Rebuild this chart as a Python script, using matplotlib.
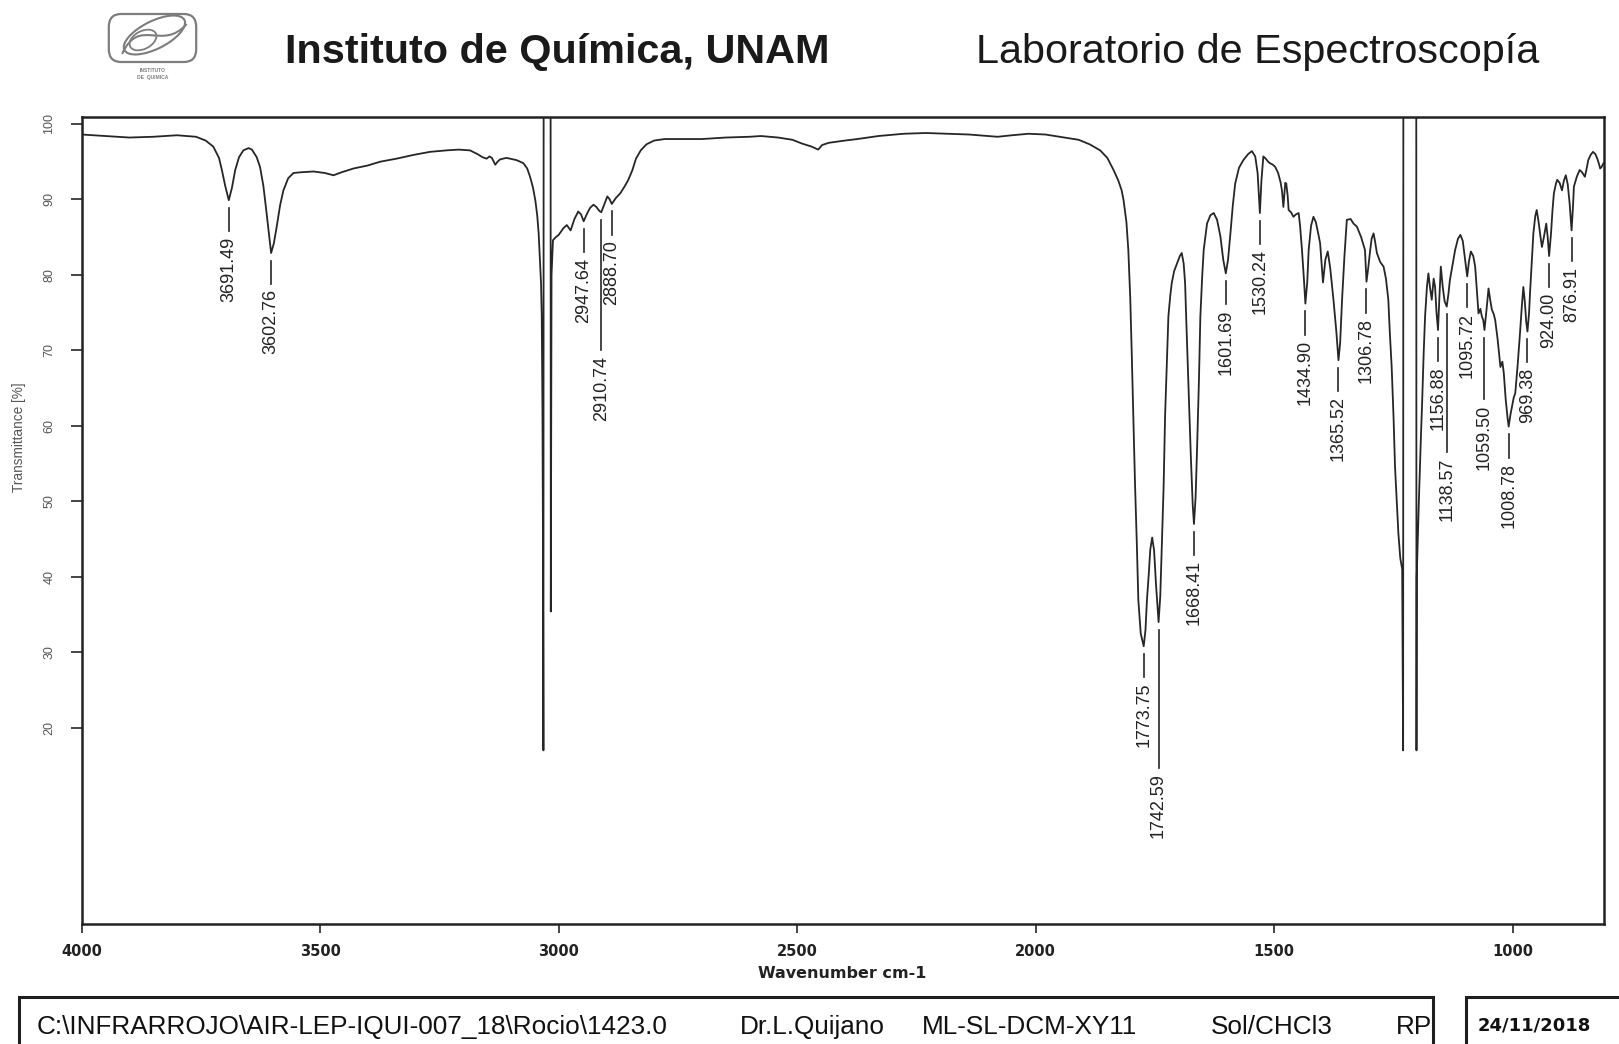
import numpy as np
import matplotlib.pyplot as plt
from matplotlib.patches import Rectangle, FancyBboxPatch, Ellipse, PathPatch
from matplotlib.path import Path

plt.rcParams['font.family'] = ['Liberation Sans', 'DejaVu Sans']

# IR spectrum, wavenumber (cm-1) against transmittance (%)
wavenumber = [
    4000, 3950, 3900, 3850, 3800, 3760, 3740, 3724, 3712, 3706, 3699, 3691.49,
    3685, 3678, 3670, 3661, 3650, 3643, 3633, 3626, 3619, 3613, 3607, 3602.76,
    3597, 3591, 3584, 3577, 3567, 3556, 3540, 3514, 3490, 3472, 3455, 3430,
    3400, 3374, 3340, 3304, 3270, 3235, 3210, 3186, 3170, 3160, 3151, 3145,
    3140, 3133, 3128, 3123, 3110, 3102, 3088, 3074, 3066, 3060, 3054, 3049,
    3045, 3042, 3039, 3037, 3035.5, 3034, 3033, 3032, 3031.5, 3017, 3016.5, 3015,
    3012, 3006, 3000, 2990, 2983, 2975, 2967, 2959, 2953, 2947.64, 2940, 2934,
    2927, 2921, 2915, 2910.74, 2904, 2898, 2893, 2888.70, 2880, 2871, 2862, 2854,
    2846, 2838, 2828, 2816, 2800, 2778, 2740, 2700, 2650, 2600, 2576, 2540,
    2510, 2490, 2470, 2456, 2448, 2434, 2400, 2374, 2330, 2277, 2230, 2187,
    2140, 2100, 2080, 2050, 2015, 1980, 1940, 1910, 1887, 1865, 1850, 1837,
    1827, 1820, 1816, 1810, 1806, 1802, 1799, 1795, 1792, 1788, 1785, 1780,
    1773.75, 1770, 1767, 1763, 1760, 1756, 1752, 1748, 1742.59, 1739, 1736, 1732,
    1729, 1725, 1722, 1718, 1715, 1710, 1704, 1698, 1694, 1690, 1687, 1684,
    1680, 1675, 1671, 1668.41, 1665, 1662, 1658, 1655, 1651, 1648, 1641, 1634,
    1627, 1620, 1613, 1607, 1601.69, 1597, 1592, 1587, 1582, 1574, 1565, 1555,
    1547, 1540, 1535, 1530.24, 1527, 1523, 1518, 1513, 1509, 1503, 1498, 1492,
    1487, 1484, 1481, 1477, 1475, 1472, 1470, 1465, 1460, 1455, 1449, 1446,
    1442, 1438, 1434.90, 1431, 1428, 1423, 1418, 1413, 1408, 1404, 1398, 1393,
    1388, 1383, 1376, 1370, 1365.52, 1362, 1358, 1353, 1348, 1340, 1334, 1327,
    1318, 1310, 1306.78, 1303, 1299, 1296, 1292, 1289, 1285, 1278, 1271, 1266,
    1261, 1258, 1254, 1250, 1247, 1243, 1240, 1236, 1232, 1230, 1229.5, 1202.5,
    1202, 1201.5, 1197, 1193, 1190, 1187, 1184, 1180, 1177, 1174, 1170, 1166,
    1163, 1160, 1156.88, 1154, 1151, 1147, 1143, 1138.57, 1135, 1132, 1126, 1121,
    1115, 1110, 1105, 1100, 1095.72, 1092, 1088, 1083, 1079, 1075, 1072, 1068,
    1065, 1062, 1059.50, 1055, 1051, 1047, 1044, 1040, 1037, 1032, 1026, 1022,
    1019, 1015, 1011, 1008.78, 1005, 1002, 998, 995, 990, 985, 981, 978,
    975, 972, 969.38, 966, 964, 960, 957, 953, 950, 946, 942, 939,
    935, 930, 927, 924.00, 920, 917, 914, 910, 907, 902, 897, 893,
    889, 885, 881, 876.91, 874, 872, 866, 860, 855, 849, 845, 842,
    837, 832, 827, 823, 819, 817, 814, 810,
]
transmittance = [
    98.6, 98.4, 98.2, 98.3, 98.5, 98.3, 97.8, 97.0, 95.5, 93.9, 91.8, 89.9,
    91.5, 93.9, 95.6, 96.5, 96.8, 96.6, 95.6, 94.3, 91.8, 88.6, 85.2, 82.9,
    84.2, 86.4, 89.2, 91.2, 92.8, 93.5, 93.6, 93.7, 93.5, 93.2, 93.6, 94.1,
    94.5, 95.0, 95.4, 95.9, 96.3, 96.5, 96.6, 96.5, 96.0, 95.6, 95.4, 95.7,
    95.5, 94.6, 95.0, 95.3, 95.5, 95.4, 95.2, 94.8, 94.1, 93.0, 91.6, 89.9,
    87.9, 85.5, 81.5, 78.9, 74.5, 62.0, 45.0, 17.0, 110.0, 110.0, 35.4, 80.0,
    84.6, 85.0, 85.3, 86.2, 86.6, 85.9, 87.4, 88.4, 88.0, 87.1, 88.2, 88.9,
    89.3, 89.0, 88.5, 88.3, 89.4, 90.4, 90.0, 89.4, 90.2, 90.8, 91.7, 92.6,
    93.8, 95.4, 96.5, 97.3, 97.8, 98.0, 98.0, 98.0, 98.2, 98.3, 98.4, 98.2,
    97.9, 97.4, 97.0, 96.6, 97.2, 97.5, 97.8, 98.0, 98.4, 98.7, 98.8, 98.7,
    98.6, 98.4, 98.3, 98.5, 98.7, 98.6, 98.2, 97.9, 97.3, 96.5, 95.5, 93.9,
    92.5, 91.2, 89.9, 87.0, 83.3, 77.0, 70.0, 60.0, 52.4, 44.0, 36.9, 32.5,
    30.8, 33.0, 36.9, 40.5, 43.6, 45.2, 43.5, 39.0, 34.0, 37.5, 43.6, 52.0,
    61.2, 69.0, 74.5, 77.3, 78.9, 80.5, 81.5, 82.5, 82.9, 81.5, 78.9, 73.0,
    65.6, 56.0, 49.5, 47.0, 50.5, 56.8, 66.0, 74.5, 80.0, 83.3, 86.8, 87.9,
    88.2, 87.3, 85.1, 82.0, 80.2, 82.0, 85.5, 89.2, 92.1, 94.2, 95.2, 96.0,
    96.4, 95.7, 93.5, 88.2, 92.5, 95.7, 95.4, 95.0, 94.8, 94.6, 94.3, 93.5,
    92.3, 91.2, 89.0, 92.2, 92.1, 90.5, 88.6, 88.3, 87.7, 88.0, 88.2, 86.5,
    83.3, 79.5, 76.2, 79.0, 83.3, 86.5, 87.7, 87.0, 85.5, 84.2, 79.0, 82.0,
    83.1, 81.0, 76.7, 72.5, 68.7, 71.0, 76.7, 82.5, 87.3, 87.4, 86.8, 86.4,
    85.0, 83.3, 79.1, 81.0, 83.3, 84.8, 85.5, 84.5, 82.9, 81.7, 81.1, 79.5,
    76.7, 72.5, 67.8, 61.0, 54.6, 49.5, 45.8, 42.5, 41.0, 17.0, 110.0, 110.0,
    17.0, 40.0, 50.0, 58.0, 63.4, 69.5, 74.5, 78.5, 80.2, 78.5, 76.7, 79.5,
    78.4, 75.0, 72.7, 77.0, 81.1, 78.4, 76.5, 75.8, 77.5, 79.3, 81.5, 83.3,
    84.8, 85.3, 84.5, 82.0, 79.8, 81.8, 83.1, 82.5, 81.1, 77.5, 74.9, 75.5,
    74.5, 74.0, 72.7, 75.5, 78.2, 76.5, 75.4, 74.8, 74.0, 71.5, 67.8, 68.5,
    67.0, 63.5, 61.0, 59.9, 61.5, 62.5, 63.8, 64.3, 68.0, 72.3, 76.0, 78.4,
    76.5, 73.8, 72.5, 75.0, 77.6, 82.0, 85.5, 87.8, 88.6, 87.0, 85.0, 83.7,
    85.0, 86.8, 85.0, 82.5, 85.5, 88.5, 90.8, 92.0, 92.6, 92.2, 91.2, 92.5,
    93.2, 92.0, 89.5, 85.9, 89.0, 91.7, 93.0, 93.9, 93.6, 93.0, 94.2, 95.2,
    95.9, 96.3, 96.0, 95.4, 94.6, 94.1, 94.3, 94.8,
]

peak_wavenumbers = [
    3691.49, 3602.76, 2947.64, 2910.74, 2888.70, 1773.75, 1742.59, 1668.41,
    1601.69, 1530.24, 1434.90, 1365.52, 1306.78, 1156.88, 1138.57, 1095.72,
    1059.50, 1008.78, 969.38, 924.00, 876.91,
]

# peaks whose label is pushed further down to clear a neighbour (drop in %T)
long_leaders = {2910.74: 19.0, 1742.59: 20.0, 1138.57: 20.0, 1059.50: 9.9}

y_ticks = [20, 30, 40, 50, 60, 70, 80, 90, 100]
x_ticks = [4000, 3500, 3000, 2500, 2000, 1500, 1000]

footer_fields = [
    ('C:\\INFRARROJO\\AIR-LEP-IQUI-007_18\\Rocio\\1423.0', 37),
    ('Dr.L.Quijano', 740),
    ('ML-SL-DCM-XY11', 922),
    ('Sol/CHCl3', 1211),
    ('RP', 1396),
]
run_date = '24/11/2018'

W, H = 1619, 1044
LINE = '#262626'


def fx(px):
    return px / W


def fy(py):
    return 1 - py / H


def draw_logo(fig):
    lax = fig.add_axes([fx(105), fy(82), fx(95), 70 / H])
    lax.set_xlim(0, 100)
    lax.set_ylim(0, 70)
    lax.axis('off')
    grey = '#7d7d7d'
    lax.add_patch(FancyBboxPatch((4, 20), 92, 48, boxstyle='round,pad=0,rounding_size=13',
                                 fill=False, ec=grey, lw=1.6))
    lax.add_patch(Ellipse((52, 47), 70, 28, angle=25, fill=False, ec=grey, lw=1.5))
    lax.add_patch(Ellipse((40, 42), 30, 18, angle=25, fill=False, ec=grey, lw=1.3))
    swirl = Path([(18, 28), (36, 66), (60, 30), (86, 58)],
                 [Path.MOVETO, Path.CURVE4, Path.CURVE4, Path.CURVE4])
    lax.add_patch(PathPatch(swirl, fill=False, ec=grey, lw=1.5))
    lax.text(50, 12, 'INSTITUTO', ha='center', va='center', fontsize=3.6, color=grey, fontweight='bold')
    lax.text(50, 4.5, 'DE  QUIMICA', ha='center', va='center', fontsize=3.6, color=grey, fontweight='bold')


def label_peaks(ax):
    wn_up = wavenumber[::-1]
    tr_up = transmittance[::-1]
    for wn in peak_wavenumbers:
        t_peak = np.interp(wn, wn_up, tr_up)
        drop = long_leaders.get(wn, 4.8)
        ax.plot([wn, wn], [t_peak - 1.0, t_peak - drop + 0.7], color=LINE, lw=1.2)
        ax.text(wn, t_peak - drop, f'{wn:.2f}', rotation=90, ha='center', va='top',
                fontsize=13, color='#222222')


def draw_footer(fig):
    box1 = Rectangle((fx(18.6), -0.05), fx(1433 - 18.6), fy(997.4) + 0.05,
                     transform=fig.transFigure, fill=False, ec='#1e1e1e', lw=2.2)
    box2 = Rectangle((fx(1466), -0.05), 0.2, fy(997.4) + 0.05,
                     transform=fig.transFigure, fill=False, ec='#1e1e1e', lw=2.2)
    fig.patches.extend([box1, box2])
    for text, px in footer_fields:
        t = fig.text(fx(px), fy(1027), text, ha='left', va='center', fontsize=18.8, color='#111111')
        t.set_clip_path(box1)
    fig.text(fx(1478), fy(1026), run_date, ha='left', va='center', fontsize=13,
             fontweight='bold', family='DejaVu Sans', color='#111111')


fig = plt.figure(figsize=(W / 100, H / 100), dpi=100)
ax = fig.add_axes([fx(81.6), fy(924), fx(1603.5 - 81.6), (924 - 116.7) / H])

ax.plot(wavenumber, transmittance, color=LINE, lw=1.3, solid_joinstyle='round')
ax.set_xlim(4000, 810)
ax.set_ylim(-6.0, 100.96)

ax.set_yticks(y_ticks)
ax.set_yticklabels([str(v) for v in y_ticks], rotation=90, va='center')
ax.set_xticks(x_ticks)
ax.set_xticklabels([str(v) for v in x_ticks], family='DejaVu Sans', fontweight='bold')
ax.tick_params(axis='y', length=8, width=1.2, labelsize=9, labelcolor='#555555', pad=11, color=LINE)
ax.tick_params(axis='x', length=6.7, width=1.2, labelsize=10.5, labelcolor='#222222', pad=8, color=LINE)
for side in ax.spines.values():
    side.set_linewidth(1.8)
    side.set_color('#222222')

ax.set_xlabel('Wavenumber cm-1', family='DejaVu Sans', fontweight='bold', fontsize=11.5, color='#222222')
ax.xaxis.set_label_coords(0.5, -0.052)
ax.set_ylabel('Transmittance [%]', fontsize=9.8, color='#555555')
ax.yaxis.set_label_coords(-0.0365, (58.5 + 6.0) / 106.96)

label_peaks(ax)

draw_logo(fig)
fig.text(fx(285), fy(51.6), 'Instituto de Química, UNAM', ha='left', va='center',
         fontsize=29.8, fontweight='bold', color='#1a1a1a')
fig.text(fx(976), fy(51.6), 'Laboratorio de Espectroscopía', ha='left', va='center',
         fontsize=29.8, color='#1a1a1a')

draw_footer(fig)

fig.savefig('out.png', dpi=100)
